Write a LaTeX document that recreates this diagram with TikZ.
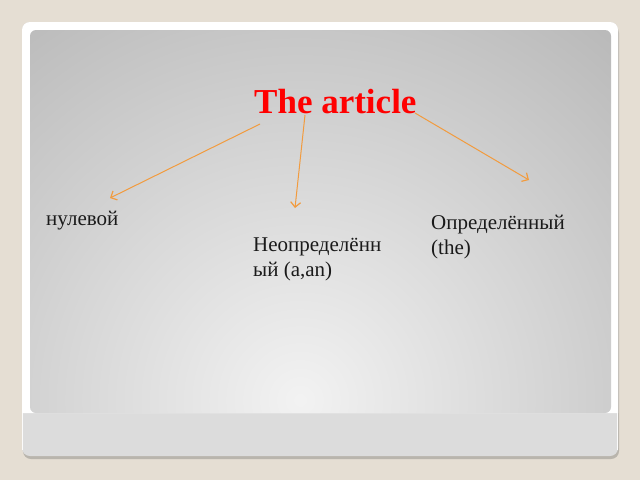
\documentclass[tikz,border=0pt]{standalone}
\usepackage{fontspec}
\setmainfont{Liberation Serif}
\usetikzlibrary{arrows.meta}
\definecolor{bgc}{HTML}{E5DED3}
\definecolor{shadowc}{HTML}{B9B5AD}
\definecolor{stripc}{HTML}{DCDCDC}
\definecolor{arrc}{HTML}{F29B3E}
\definecolor{txtc}{HTML}{1A1A1A}
\tikzset{
  conn/.style={draw=arrc, line width=1pt, -{Straight Barb[length=5pt,width=10pt,line width=1.2pt]}},
  body/.style={anchor=base west, inner sep=0pt, text=txtc, font=\fontsize{21}{25}\selectfont, align=left},
  titlebox/.style={anchor=base west, inner sep=0pt, text=red, font=\fontsize{35}{40}\selectfont\bfseries}
}
\begin{document}
\begin{tikzpicture}[x=1pt,y=-1pt]
\useasboundingbox (0,0) rectangle (640,480);
\fill[bgc] (0,0) rectangle (640,480);
% card
\fill[shadowc, rounded corners=8] (23,25) rectangle (619,459);
\fill[stripc, rounded corners=8] (22,22) rectangle (618,456);
\fill[white] (22,413) {[rounded corners=8] -- (22,22) -- (618,22)} -- (618,413) -- cycle;
\draw[white!90!stripc, line width=1pt] (22.5,413) -- (22.5,450);
\draw[white!90!stripc, line width=1pt] (617.5,413) -- (617.5,450);
% gradient panel
\begin{scope}
\clip[rounded corners=6] (30,30) rectangle (611,413);
\shade[inner color=white!95!black, outer color=white!70!black] (300,400) circle (540);
\end{scope}
% texts
\node[titlebox] (title) at (254,113) {The article};
\node[body] (zero) at (46,225) {нулевой};
\node[body] (indef) at (253,276) {Неопределённ\\ый (a,an)};
\node[body] (def) at (431,254) {Определённый\\(the)};
% connector coordinates
\coordinate (s1) at (260,124);
\coordinate (e1) at (110,198);
\coordinate (s2) at (305,115);
\coordinate (e2) at (295,208);
\coordinate (s3) at (415,113);
\coordinate (e3) at (529,180);
\draw[conn] (s1) -- (e1);
\draw[conn] (s2) -- (e2);
\draw[conn] (s3) -- (e3);
\end{tikzpicture}
\end{document}
